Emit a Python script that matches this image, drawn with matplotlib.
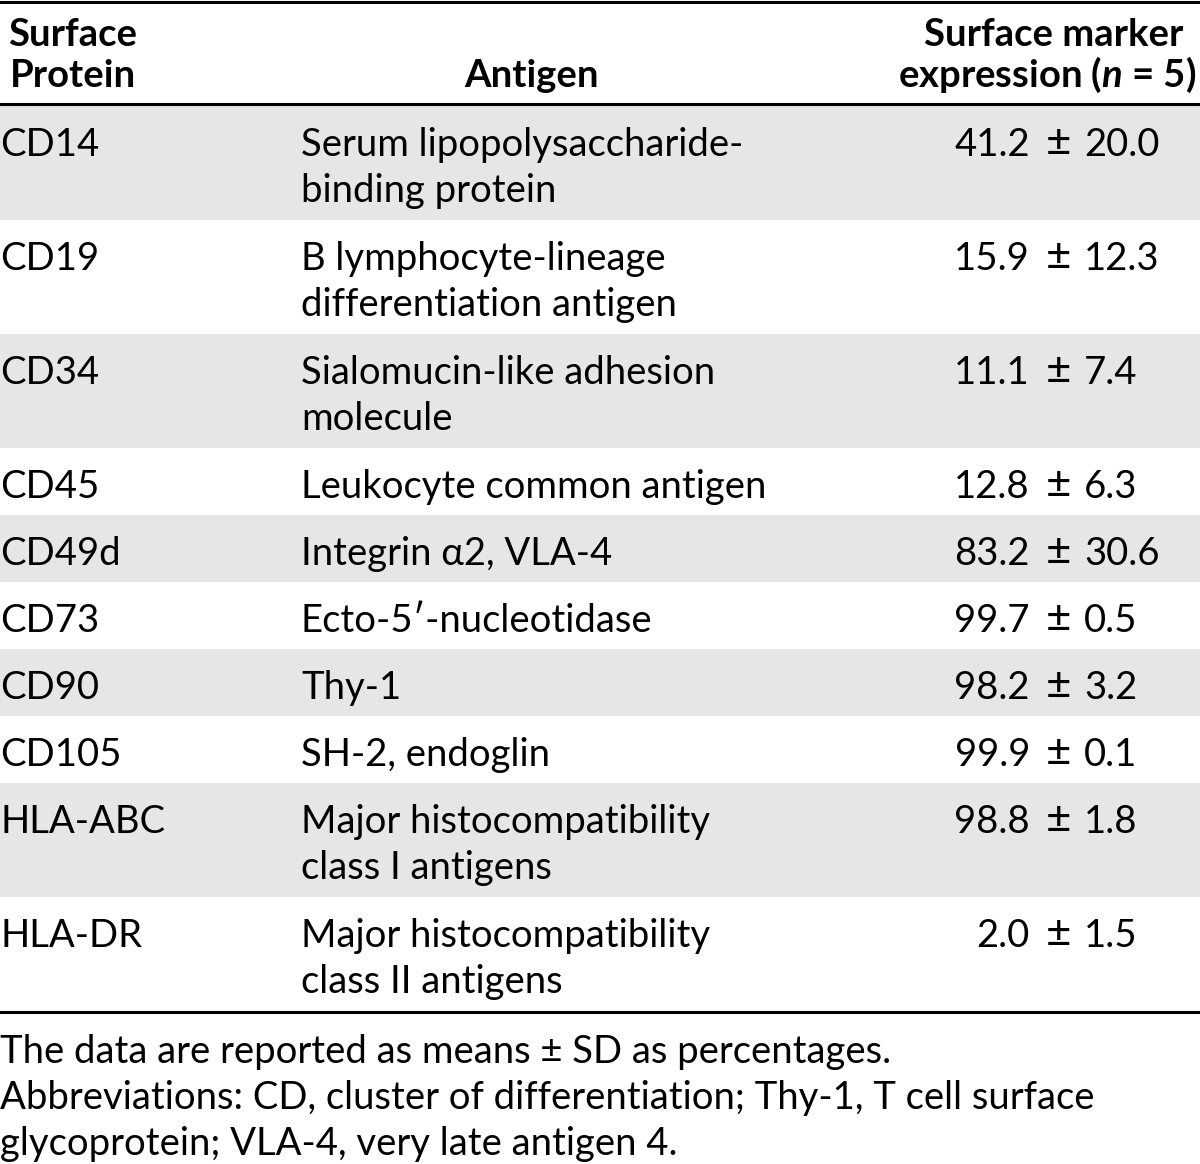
import matplotlib
matplotlib.use("Agg")
import matplotlib.pyplot as plt
from matplotlib.patches import Rectangle

# table content
proteins = ["CD14", "CD19", "CD34", "CD45", "CD49d", "CD73", "CD90", "CD105", "HLA-ABC", "HLA-DR"]
antigens = ["Serum lipopolysaccharide-\nbinding protein",
            "B lymphocyte-lineage\ndifferentiation antigen",
            "Sialomucin-like adhesion\nmolecule",
            "Leukocyte common antigen",
            "Integrin \u03b12, VLA-4",
            "Ecto-5\u2032-nucleotidase",
            "Thy-1",
            "SH-2, endoglin",
            "Major histocompatibility\nclass I antigens",
            "Major histocompatibility\nclass II antigens"]
means = ["41.2", "15.9", "11.1", "12.8", "83.2", "99.7", "98.2", "99.9", "98.8", "2.0"]
sds = ["20.0", "12.3", "7.4", "6.3", "30.6", "0.5", "3.2", "0.1", "1.8", "1.5"]
footnotes = ["The data are reported as means \u00b1 SD as percentages.",
             "Abbreviations: CD, cluster of differentiation; Thy-1, T cell surface",
             "glycoprotein; VLA-4, very late antigen 4."]

plt.rcParams['font.family'] = ['Lato', 'DejaVu Sans']
plt.rcParams['mathtext.fontset'] = 'custom'
plt.rcParams['mathtext.it'] = 'Lato:bold:italic'

FS = 27.5
LINE = 46
GRAY = "#e6e6e6"

fig = plt.figure(figsize=(12, 11.64), dpi=100)
ax = fig.add_axes([0, 0, 1, 1])
ax.set_xlim(0, 1200)
ax.set_ylim(1164, 0)
ax.axis('off')

# header
ax.plot([0, 1200], [2, 2], color='black', lw=2.2)
ax.text(73, 46, "Surface", ha='center', va='baseline', fontsize=FS, fontweight='bold')
ax.text(73, 87, "Protein", ha='center', va='baseline', fontsize=FS, fontweight='bold')
ax.text(531, 87, "Antigen", ha='center', va='baseline', fontsize=FS, fontweight='bold')
ax.text(1054, 46, "Surface marker", ha='center', va='baseline', fontsize=FS, fontweight='bold')
ax.text(1196, 87, "expression ($n$ = 5)", ha='right', va='baseline', fontsize=FS, fontweight='bold')
ax.plot([0, 1200], [104, 104], color='black', lw=2.2)

top = 106
for i, (p, a, m, s) in enumerate(zip(proteins, antigens, means, sds)):
    lines = a.split("\n")
    h = 20 + 47 * len(lines)
    if i % 2 == 0:
        ax.add_patch(Rectangle((0, top), 1200, h, color=GRAY, lw=0, zorder=0))
    base = top + 50
    ax.text(0, base, p, ha='left', va='baseline', fontsize=FS)
    for k, ln in enumerate(lines):
        ax.text(301, base + k * LINE, ln, ha='left', va='baseline', fontsize=FS)
    ax.text(1030, base, m, ha='right', va='baseline', fontsize=FS)
    ax.text(1058, base, "\u00b1", ha='center', va='baseline', fontsize=FS * 1.15)
    ax.text(1084, base, s, ha='left', va='baseline', fontsize=FS)
    top += h

ax.plot([0, 1200], [top + 1, top + 1], color='black', lw=2.2)

for k, fn in enumerate(footnotes):
    ax.text(0, top + 52 + k * 46, fn, ha='left', va='baseline', fontsize=FS)

fig.savefig("out.png", dpi=100)
